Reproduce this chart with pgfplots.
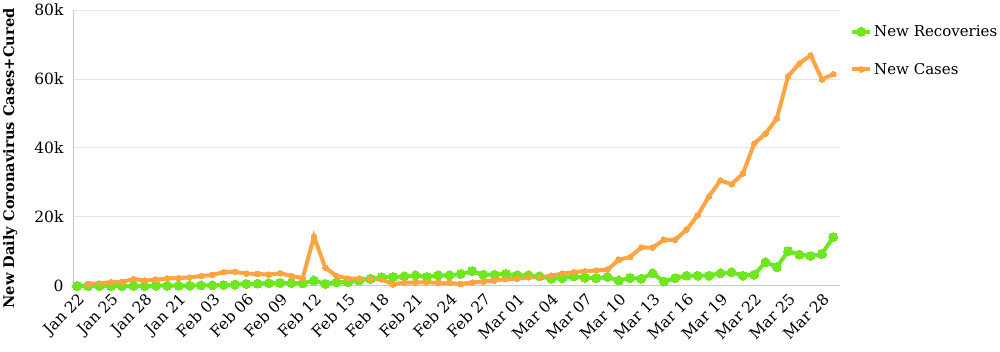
\documentclass[border=0pt]{standalone}
\usepackage{fontspec}
\setmainfont{DejaVu Serif}
\usepackage{pgfplots}
\pgfplotsset{compat=1.18}
\usepackage{pgfplotstable}
\definecolor{cgreen}{RGB}{110,232,30}
\definecolor{corange}{RGB}{255,164,64}
\definecolor{gridgray}{RGB}{230,230,230}
\definecolor{axblue}{RGB}{190,205,222}

\pgfplotstableread{
i rec
0 0.0
1 0.0
2 0.0
3 0.0
4 0.0
5 0.0
6 0.0
7 0.1
8 0.1
9 0.1
10 0.1
11 0.2
12 0.2
13 0.3
14 0.4
15 0.6
16 0.7
17 0.8
18 0.9
19 0.9
20 0.8
21 1.6
22 0.6
23 1.1
24 1.1
25 1.6
26 2.1
27 2.6
28 2.6
29 2.8
30 3.1
31 2.6
32 3.1
33 3.1
34 3.5
35 4.3
36 3.3
37 3.3
38 3.5
39 3.1
40 3.1
41 2.8
42 2.1
43 2.3
44 2.8
45 2.4
46 2.3
47 2.6
48 1.6
49 2.3
50 2.1
51 3.7
52 1.3
53 2.3
54 3.0
55 3.0
56 3.0
57 3.7
58 4.0
59 3.0
60 3.3
61 6.9
62 5.5
63 10.1
64 9.1
65 8.7
66 9.3
67 14.2
}\recov

\pgfplotstableread{
i cases
1 0.6
2 0.8
3 1.1
4 1.2
5 2.0
6 1.6
7 1.8
8 2.2
9 2.3
10 2.5
11 2.9
12 3.2
13 4.0
14 4.1
15 3.6
16 3.5
17 3.3
18 3.7
19 2.9
20 2.3
21 14.3
22 5.3
23 2.9
24 2.2
25 2.1
26 2.0
27 1.9
28 0.5
29 1.0
30 1.0
31 1.1
32 0.9
33 0.9
34 0.6
35 1.0
36 1.3
37 1.6
38 2.0
39 2.1
40 2.5
41 2.5
42 3.0
43 3.6
44 4.0
45 4.3
46 4.5
47 4.7
48 7.6
49 8.4
50 11.2
51 11.1
52 13.4
53 13.4
54 16.3
55 20.5
56 26.0
57 30.6
58 29.5
59 32.6
60 41.3
61 44.2
62 48.5
63 60.8
64 64.5
65 66.9
66 59.9
67 61.4
}\cases

\begin{document}
\begin{tikzpicture}
\begin{axis}[
  scale only axis, width=767pt, height=276pt,
  xmin=-0.35, xmax=67.6, ymin=0, ymax=80,
  axis lines*=left,
  axis line style={draw=axblue, line width=1pt},
  ymajorgrids, grid style={draw=gridgray, line width=1pt},
  major tick length=0pt,
  ytick={0,20,40,60,80}, yticklabels={0,20k,40k,60k,80k},
  xtick={0,3,...,66},
  xticklabels={Jan 22,Jan 25,Jan 28,Jan 21,Feb 03,Feb 06,Feb 09,Feb 12,Feb 15,Feb 18,Feb 21,Feb 24,Feb 27,Mar 01,Mar 04,Mar 07,Mar 10,Mar 13,Mar 16,Mar 19,Mar 22,Mar 25,Mar 28},
  xticklabel style={rotate=45, anchor=north east, font=\fontsize{15.5}{15.5}\selectfont, inner sep=4pt},
  yticklabel style={font=\fontsize{15.5}{15.5}\selectfont, xshift=-6pt},
  ylabel={New Daily Coronavirus Cases+Cured},
  ylabel style={at={(axis description cs:-0.082,0.462)}, anchor=center, font=\bfseries\fontsize{14.6}{14.6}\selectfont},
  clip=false,
  legend style={at={(axis description cs:1.013,0.952)}, anchor=north west, draw=none, fill=none,
    font=\fontsize{15}{18}\selectfont, row sep=21pt, inner sep=0pt},
  legend cell align=left,
  legend image code/.code={\draw[mark repeat=2,mark phase=2,#1] plot coordinates {(0pt,0pt) (9pt,0pt) (18pt,0pt)};},
]
\addplot[cgreen, line width=4pt, mark=*, mark size=4.5pt, mark options={fill=cgreen, draw=cgreen, line width=0pt}] table[x=i, y=rec] {\recov};
\addlegendentry{New Recoveries}
\addplot[corange, line width=4pt, mark=*, mark size=2.8pt, mark options={fill=corange, draw=corange, line width=0pt}] table[x=i, y=cases] {\cases};
\addlegendentry{New Cases}
\end{axis}
\pgfresetboundingbox
\path (current axis.south west) ++(-73pt,-66pt) rectangle ++(1000pt,352pt);
\end{tikzpicture}
\end{document}
